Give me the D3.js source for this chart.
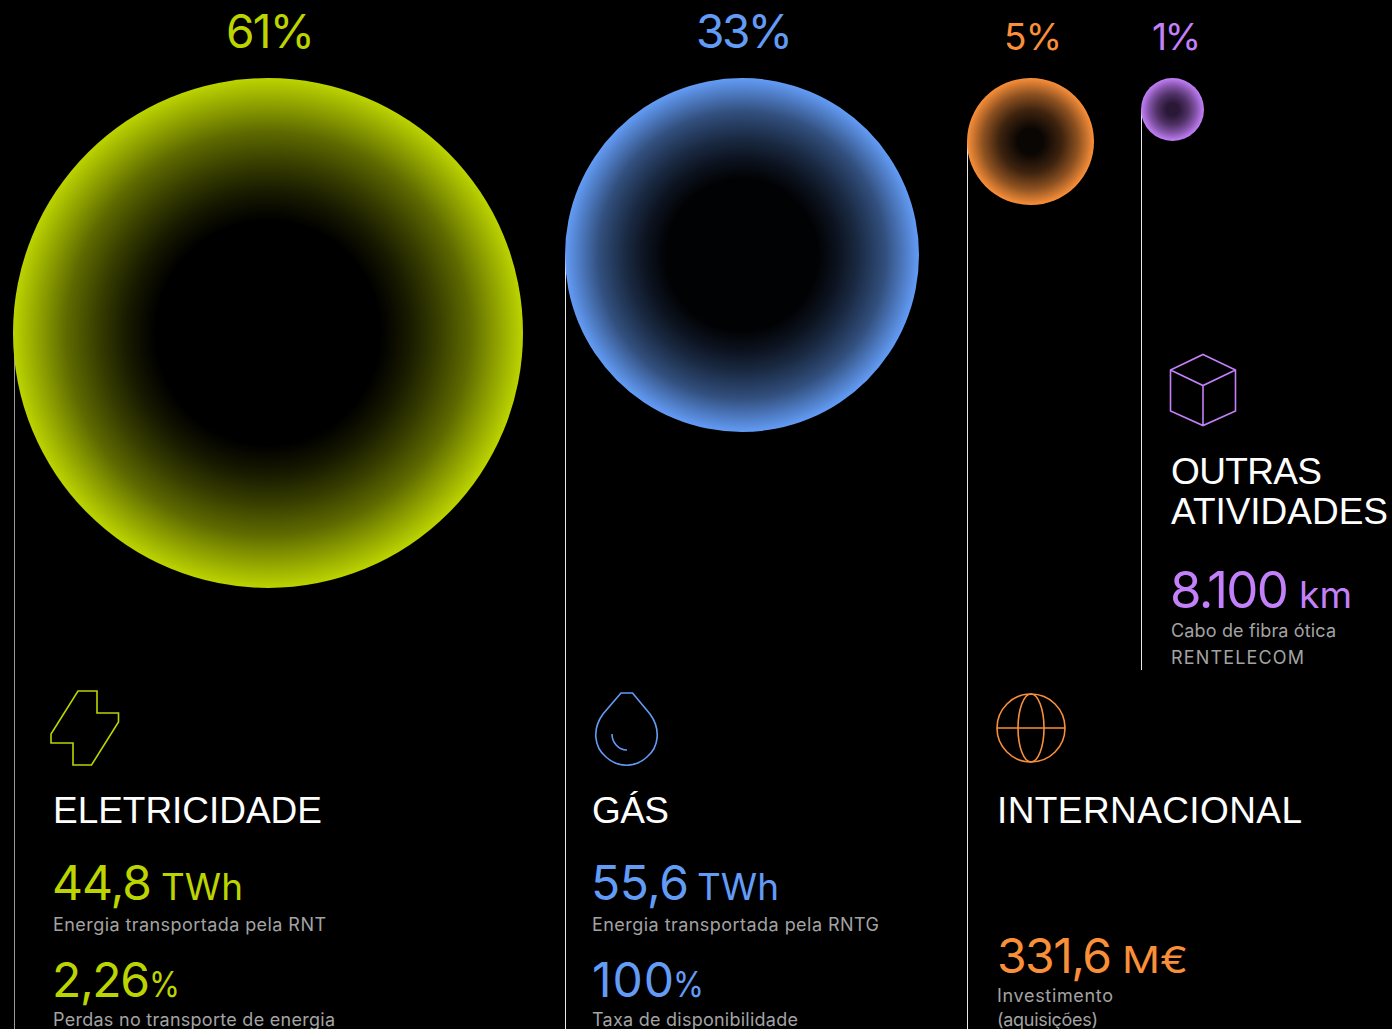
<!DOCTYPE html>
<html>
<head>
<meta charset="utf-8">
<script src="https://cdn.jsdelivr.net/npm/d3@7"></script>
<style>
html, body { margin: 0; padding: 0; background: #000; overflow: hidden; }
svg { display: block; }
text { font-family: Inter, "Liberation Sans", sans-serif; }
.head { font-family: "Liberation Sans", Arial, sans-serif; fill: #fff; font-size: 37px; }
.big { font-weight: 400; }
.note { fill: #a3a3a3; font-size: 18px; font-weight: 400; }
.share { font-weight: 400; }
</style>
</head>
<body>
<div id="chart"></div>
<script>
const categories = ['eletricidade', 'gas', 'internacional', 'outras'];
const shares = [61, 33, 5, 1];
const shareLabels = ['61%', '33%', '5%', '1%'];
const colors = ['#bcd400', '#639cf6', '#f98f39', '#c480fa'];
const titles = ['ELETRICIDADE', 'GÁS', 'INTERNACIONAL', 'OUTRAS', 'ATIVIDADES'];
const titleOwner = [0, 1, 2, 3, 3];
const numbers = ['44,8', '2,26', '55,6', '100', '331,6', '8.100'];
const units = ['TWh', '%', 'TWh', '%', 'M€', 'km'];
const numberOwner = [0, 0, 1, 1, 2, 3];
const notes = [
    'Energia transportada pela RNT', 'Perdas no transporte de energia',
    'Energia transportada pela RNTG', 'Taxa de disponibilidade',
    'Investimento', '(aquisições)', 'Cabo de fibra ótica', 'RENTELECOM'
];

const sharePos = [[226, 48, 89], [696, 48, 97], [1004, 50, 58], [1152, 50, 49]];
const titlePos = [[53, 823, 269], [592, 823, 77], [997, 823, 305], [1171, 484, 151], [1171, 524, 217]];
const numberPos = [[52, 900, 100], [52, 997, 98], [591, 900, 98], [592, 997, 82], [997, 973, 115], [1170, 608, 119]];
const numberSize = [48, 48, 48, 48, 48, 51];
const unitPos = [[161, 900, 82], [149, 997, 31], [697, 900, 82], [673, 997, 31], [1122, 973, 66], [1299, 608, 53]];
const unitSize = [37, 36, 37, 36, 37, 37];
const notePos = [[53, 931, 273], [53, 1026, 282], [592, 931, 287], [592, 1026, 206], [997, 1002, 116], [997, 1026, 101], [1171, 637, 165], [1171, 664, 133]];

const width = 1392, height = 1029;
const svg = d3.select('#chart').append('svg').attr('width', width).attr('height', height);
svg.append('rect').attr('width', width).attr('height', height).attr('fill', '#000');

// bubbles are not quite area-true in the original, so the scale goes through each size
const radius = d3.scaleLinear().domain([1, 5, 33, 61]).range([31.5, 63.5, 177, 255]);
const columnX = d3.scaleOrdinal().domain(categories).range([13, 565, 967, 1141]);
const topY = 78;

const defs = svg.append('defs');
const centerFill = ['#000', '#010204', '#0a0603', '#2a1836'];
const ramps = [
    [[0, 0], [0.44, 0], [0.55, 0.12], [0.66, 0.28], [0.79, 0.5], [1, 1]],
    [[0, 0], [0.43, 0], [0.55, 0.12], [0.66, 0.26], [0.81, 0.5], [1, 1]],
    [[0, 0], [0.2, 0], [0.5, 0.22], [0.75, 0.55], [1, 1]],
    [[0, 0], [0.2, 0], [0.5, 0.25], [0.75, 0.58], [1, 1]]
];
categories.forEach((c, i) => {
    const mix = d3.interpolateRgb(centerFill[i], colors[i]);
    const g = defs.append('radialGradient').attr('id', 'grad-' + c);
    ramps[i].forEach(s => {
        g.append('stop').attr('offset', s[0]).attr('stop-color', mix(s[1]));
    });
});

// vertical rules
const lineEnd = [1029, 1029, 1029, 670];
const ruleX = (d, i) => columnX(d) + (i === 0 ? 1.5 : 0.5);
svg.selectAll('.rule').data(categories).enter().append('line')
    .attr('class', 'rule')
    .attr('x1', ruleX)
    .attr('x2', ruleX)
    .attr('y1', (d, i) => topY + radius(shares[i]))
    .attr('y2', (d, i) => lineEnd[i])
    .attr('stroke', (d, i) => i === 0 ? '#9a9a9a' : '#e8e8e8')
    .attr('stroke-width', 1);

// bubbles
svg.selectAll('.bubble').data(categories).enter().append('circle')
    .attr('class', 'bubble')
    .attr('cx', (d, i) => columnX(d) + radius(shares[i]))
    .attr('cy', (d, i) => topY + radius(shares[i]))
    .attr('r', (d, i) => radius(shares[i]))
    .attr('fill', d => `url(#grad-${d})`);

// share labels
const shareSize = [46, 46, 37, 37];
svg.selectAll('.share').data(shareLabels).enter().append('text')
    .attr('class', 'share')
    .attr('x', (d, i) => sharePos[i][0])
    .attr('y', (d, i) => sharePos[i][1])
    .attr('textLength', (d, i) => sharePos[i][2])
    .attr('font-size', (d, i) => shareSize[i])
    .attr('fill', (d, i) => colors[i])
    .text(d => d);

// icons
const icons = svg.append('g').attr('fill', 'none').attr('stroke-width', 1.6);
icons.append('path').attr('stroke', colors[0])
    .attr('d', 'M78 691H97V713H118.500V722L91.500 765H73V743H51V734Z');
icons.append('path').attr('stroke', colors[1])
    .attr('d', 'M621 693H632.500L650 714C661 729 659 747 647 757C635 768 618 768 606 757C594 747 592 729 603 714Z M612 734C612 742 618 750 627 750');
const globe = icons.append('g').attr('stroke', colors[2]);
globe.append('circle').attr('cx', 1031).attr('cy', 728).attr('r', 34);
globe.append('ellipse').attr('cx', 1031).attr('cy', 728).attr('rx', 13).attr('ry', 34);
globe.append('line').attr('x1', 997).attr('x2', 1065).attr('y1', 728).attr('y2', 728);
icons.append('path').attr('stroke', colors[3])
    .attr('d', 'M1203 354.500L1235.500 370V411L1203 425.500L1170.500 411V370Z M1170.500 370L1203 385.500L1235.500 370 M1203 385.500V425.500');

// section titles
svg.selectAll('.head').data(titles).enter().append('text')
    .attr('class', 'head')
    .attr('x', (d, i) => titlePos[i][0])
    .attr('y', (d, i) => titlePos[i][1])
    .attr('textLength', (d, i) => titlePos[i][2])
    .text(d => d);

// key figures
svg.selectAll('.num').data(numbers).enter().append('text')
    .attr('class', 'num big')
    .attr('x', (d, i) => numberPos[i][0])
    .attr('y', (d, i) => numberPos[i][1])
    .attr('textLength', (d, i) => numberPos[i][2])
    .attr('font-size', (d, i) => numberSize[i])
    .attr('fill', (d, i) => colors[numberOwner[i]])
    .text(d => d);

svg.selectAll('.unit').data(units).enter().append('text')
    .attr('class', 'unit big')
    .attr('x', (d, i) => unitPos[i][0])
    .attr('y', (d, i) => unitPos[i][1])
    .attr('textLength', (d, i) => unitPos[i][2])
    .attr('lengthAdjust', 'spacingAndGlyphs')
    .attr('font-size', (d, i) => unitSize[i])
    .attr('fill', (d, i) => colors[numberOwner[i]])
    .text(d => d);

svg.selectAll('.note').data(notes).enter().append('text')
    .attr('class', 'note')
    .attr('x', (d, i) => notePos[i][0])
    .attr('y', (d, i) => notePos[i][1])
    .attr('textLength', (d, i) => notePos[i][2])
    .text(d => d);
</script>
</body>
</html>
